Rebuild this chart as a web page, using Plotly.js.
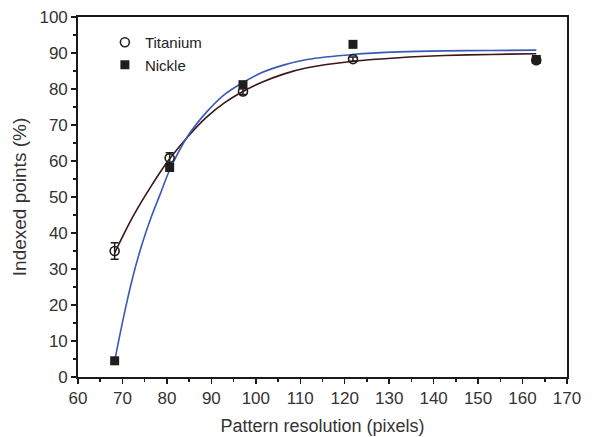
<!DOCTYPE html>
<html>
<head>
<meta charset="utf-8">
<script src="https://cdn.plot.ly/plotly-3.0.1.min.js"></script>
<style>html,body{margin:0;padding:0;background:#fff;}#chart{width:598px;height:437px;}</style>
</head>
<body>
<div id="chart"></div>
<script>
// Measured data points
const resolution = [68, 80, 96, 120, 160];
const titanium = [35.0, 60.8, 79.3, 88.3, 88.0];
const titaniumErr = [2.3, 1.5, 0.8, 0.6, 0.6];
const nickle = [4.5, 58.2, 81.2, 92.4, 88.2];

// Fitted curves
const fitX = [68, 70, 72, 74, 76, 78, 80, 84, 88, 92, 96, 100, 105, 110, 120, 130, 140, 150, 160];
const titaniumFit = [34.5, 39.7, 44.6, 49.0, 53.1, 57.0, 60.6, 66.8, 72.1, 76.2, 79.3, 81.8, 84.2, 85.9, 87.7, 88.7, 89.3, 89.6, 89.8];
const nickleFit = [4.5, 17, 28, 37, 44.5, 51, 57.5, 67, 73.5, 78.5, 81.8, 84.5, 86.7, 88.2, 89.6, 90.3, 90.6, 90.7, 90.8];

const xTicks = [60, 70, 80, 90, 100, 110, 120, 130, 140, 150, 160, 170];
const yTicks = [0, 10, 20, 30, 40, 50, 60, 70, 80, 90, 100];

const traces = [
  // empty trace so the labelled x axis gets its own subplot
  {x: [], y: [], xaxis: 'x', yaxis: 'y', mode: 'markers', showlegend: false, hoverinfo: 'skip'},
  {x: fitX, y: titaniumFit, xaxis: 'x2', mode: 'lines', line: {color: '#3d1616', width: 1.6, shape: 'spline', smoothing: 0.8}, showlegend: false, hoverinfo: 'skip'},
  {x: fitX, y: nickleFit, xaxis: 'x2', mode: 'lines', line: {color: '#3a58b5', width: 1.6, shape: 'spline', smoothing: 0.8}, showlegend: false, hoverinfo: 'skip'},
  {x: resolution, y: nickle, xaxis: 'x2', mode: 'markers', name: 'Nickle',
   marker: {symbol: 'square', size: 9, color: '#1e1e1e', line: {color: '#1e1e1e', width: 0}}},
  {x: resolution, y: titanium, xaxis: 'x2', mode: 'markers', name: 'Titanium',
   error_y: {type: 'data', array: titaniumErr, visible: true, color: '#1e1e1e', thickness: 1.5, width: 4},
   marker: {symbol: 'circle-open', size: 9, color: '#1e1e1e', line: {color: '#1e1e1e', width: 1.6}}}
];

const fam = 'Liberation Sans, Arial, sans-serif';
const axFont = {family: fam, size: 17, color: '#333'};
const layout = {
  width: 598, height: 437,
  margin: {l: 77.5, r: 31.3, t: 17.3, b: 60.3},
  paper_bgcolor: '#fff', plot_bgcolor: '#fff',
  font: axFont,
  showlegend: true,
  legend: {x: 0.055, y: 0.975, xanchor: 'left', yanchor: 'top', traceorder: 'reversed',
           font: {family: fam, size: 15, color: '#222'},
           bgcolor: 'rgba(0,0,0,0)', itemwidth: 30, tracegroupgap: 0},
  xaxis: {
    range: [60, 170], tickvals: xTicks, ticktext: xTicks.map(String),
    showgrid: false, zeroline: false, showline: true, mirror: true, linecolor: '#1a1a1a', linewidth: 1.8,
    ticks: 'outside', ticklen: 5, tickwidth: 1.5, tickcolor: '#1a1a1a',
    minor: {ticks: 'outside', dtick: 5, ticklen: 3, tickwidth: 1.5, tickcolor: '#1a1a1a'},
    tickfont: axFont,
    title: {text: 'Pattern resolution (pixels)', font: {family: fam, size: 18, color: '#333'}, standoff: 12}
  },
  xaxis2: {range: [60, 166.7], overlaying: 'x', visible: false, showgrid: false, zeroline: false},
  yaxis: {
    range: [0, 100], tickvals: yTicks,
    showgrid: false, zeroline: false, showline: true, mirror: true, linecolor: '#1a1a1a', linewidth: 1.8,
    ticks: 'outside', ticklen: 5, tickwidth: 1.5, tickcolor: '#1a1a1a',
    minor: {ticks: 'outside', dtick: 5, ticklen: 3, tickwidth: 1.5, tickcolor: '#1a1a1a'},
    tickfont: axFont,
    title: {text: 'Indexed points (%)', font: {family: fam, size: 19, color: '#333'}, standoff: 8}
  }
};

Plotly.newPlot('chart', traces, layout, {staticPlot: true, displayModeBar: false});
</script>
</body>
</html>
